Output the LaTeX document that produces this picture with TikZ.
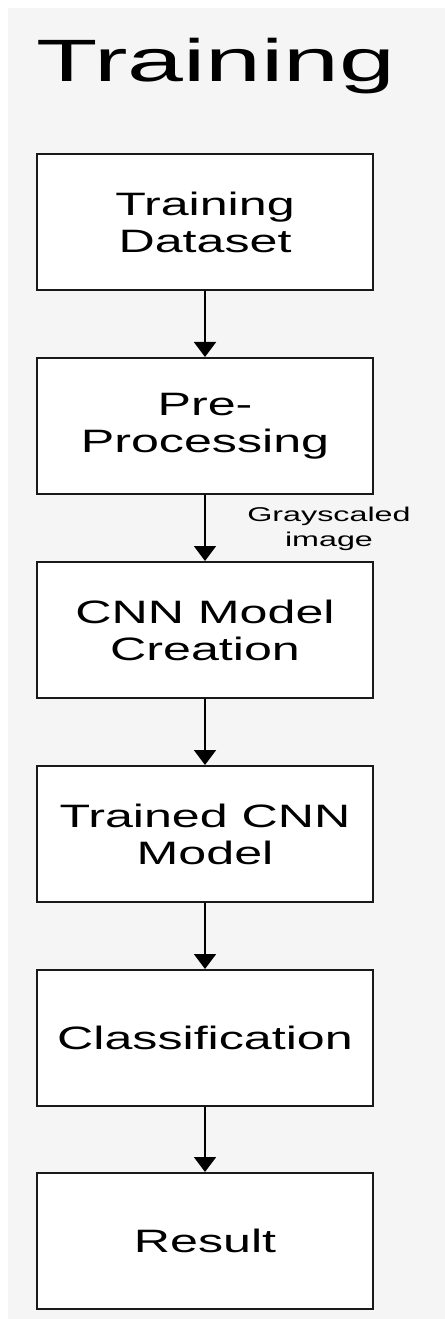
\documentclass[tikz,border=0pt]{standalone}
\usepackage{fontspec}
\setmainfont{Liberation Sans}
\newfontfamily\titlefont[FakeStretch=1.68]{Liberation Sans}
\newfontfamily\boxfont[FakeStretch=1.55]{Liberation Sans}
\newfontfamily\labfont[FakeStretch=1.62]{Liberation Sans}
\usetikzlibrary{arrows.meta}
\definecolor{bg}{HTML}{F5F5F5}
\begin{document}
\begin{tikzpicture}[x=1bp,y=-1bp,
  stepbox/.style={draw=black!90, line width=2bp, fill=white, minimum width=336bp,
    minimum height=136bp, inner sep=0pt, align=center,
    font=\boxfont\fontsize{32.5}{37}\selectfont},
  flow/.style={line width=2bp, -{Triangle[width=22bp,length=15bp]}}]
\useasboundingbox (0,0) rectangle (445,1319);
\fill[white] (0,0) rectangle (445,1319);
\fill[bg] (8,8) rectangle (460,1330);
\node[anchor=base, inner sep=0pt, font=\titlefont\fontsize{60}{70}\selectfont] (title) at (216,82) {Training};
\node[stepbox] (b1) at (205,222) {Training\\Dataset};
\node[stepbox] (b2) at (205,426) {Pre-\\Processing};
\node[stepbox] (b3) at (205,630) {CNN Model\\Creation};
\node[stepbox] (b4) at (205,834) {Trained CNN\\Model};
\node[stepbox] (b5) at (205,1038) {Classification};
\node[stepbox] (b6) at (205,1241) {Result};
\draw[flow] (b1) -- (b2);
\draw[flow] (b2) -- (b3);
\draw[flow] (b3) -- (b4);
\draw[flow] (b4) -- (b5);
\draw[flow] (b5) -- (b6);
\node[align=center, inner sep=0pt, font=\labfont\fontsize{20}{25}\selectfont] (lab) at (329,529) {Grayscaled\\image};
\end{tikzpicture}
\end{document}
